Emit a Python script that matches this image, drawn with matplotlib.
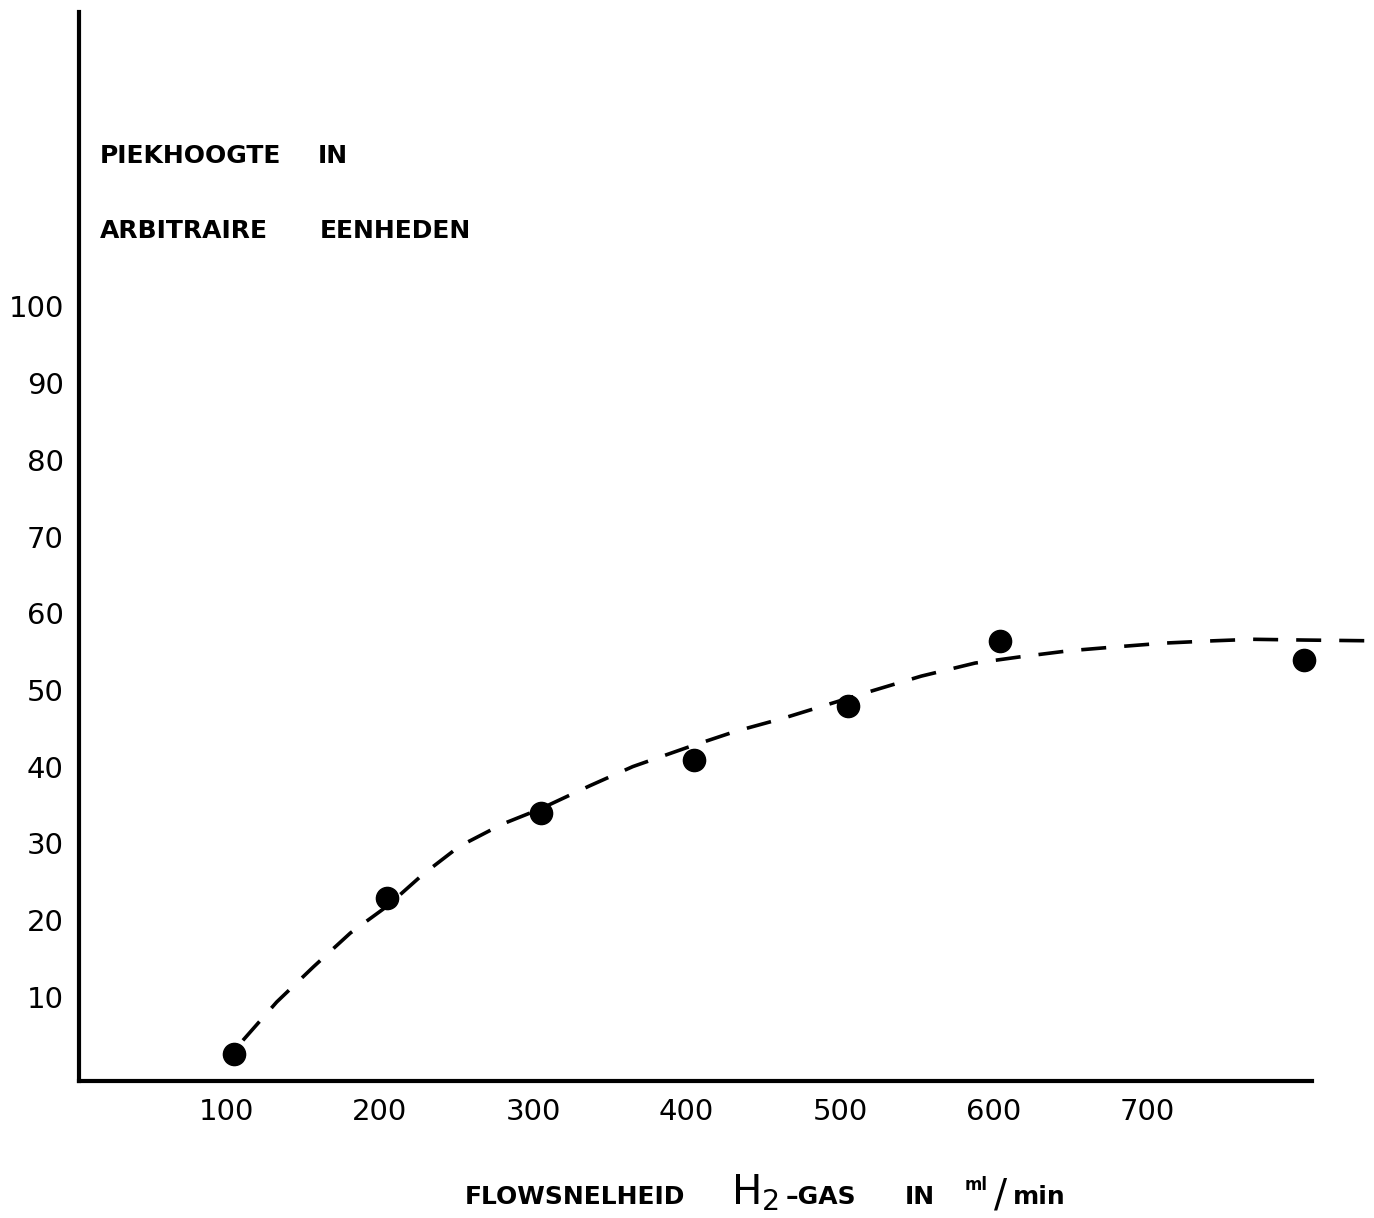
"""
Piekhoogte vs. H2 flowsnelheid -- recreation of a scanned lab-report graph.
"""

import matplotlib.pyplot as plt

# ── Data ───────────────────────────────────────────────────────────────

flow = [105, 205, 305, 405, 505, 604, 802]            # ml/min
peak = [2.5, 22.9, 34.0, 40.9, 47.9, 56.4, 53.9]      # arbitrary units

# hand-drawn trend line, traced from the dashes
curve_flow = [111, 133, 157, 181, 205, 228, 252, 280, 305, 337, 365, 402,
              432, 463, 497, 518, 553, 588, 617, 649, 679, 711, 743, 769,
              803, 847]
curve_peak = [4.3, 9.3, 13.9, 18.3, 21.8, 25.9, 29.6, 32.5, 34.5, 37.5,
              40.0, 42.6, 44.6, 46.3, 48.4, 49.7, 51.8, 53.5, 54.3, 55.1,
              55.6, 56.1, 56.4, 56.6, 56.5, 56.4]

xticks = [100, 200, 300, 400, 500, 600, 700]
yticks = [10, 20, 30, 40, 50, 60, 70, 80, 90, 100]

# ── Figure ─────────────────────────────────────────────────────────────

W, H = 1374, 1218
plt.rcParams["lines.scale_dashes"] = False


def fpos(x, y):
    """pixel position (from top-left) -> figure fraction"""
    return x / W, 1 - y / H


fig = plt.figure(figsize=(W / 100, H / 100), dpi=100)
ax = fig.add_axes([79 / W, 1 - 1081 / H, (1312 - 79) / W, (1081 - 12) / H])

ax.plot(curve_flow, curve_peak, color="black", linewidth=2.6,
        linestyle=(0, (18, 13)), solid_capstyle="butt", clip_on=False)
ax.plot(flow, peak, "o", color="black", markersize=16, clip_on=False)

ax.set_xlim(4.2, 807.5)
ax.set_ylim(-1.0, 138.4)
ax.set_xticks(xticks)
ax.set_yticks(yticks)

for side in ("top", "right"):
    ax.spines[side].set_visible(False)
for side in ("left", "bottom"):
    ax.spines[side].set_linewidth(3)

ax.tick_params(axis="both", length=0, labelsize=21)
ax.tick_params(axis="x", pad=12)
ax.tick_params(axis="y", pad=11)

# y-axis title, inside the plot
bold = dict(fontweight="bold", fontsize=18, va="baseline", ha="left")
fig.text(*fpos(100, 163), "PIEKHOOGTE", **bold)
fig.text(*fpos(318, 163), "IN", **bold)
fig.text(*fpos(100, 238), "ARBITRAIRE", **bold)
fig.text(*fpos(320, 238), "EENHEDEN", **bold)

# x-axis title, built from pieces of different size
fig.text(*fpos(465, 1204), "FLOWSNELHEID", **bold)
fig.text(*fpos(731, 1204), r"H$_2$", fontsize=29, va="baseline", ha="left")
fig.text(*fpos(786, 1204), "–GAS", **bold)
fig.text(*fpos(905, 1204), "IN", **bold)
fig.text(*fpos(965, 1190), "ml", fontweight="bold", fontsize=12,
         va="baseline", ha="left")
fig.text(*fpos(994, 1206), "/", fontsize=28, va="baseline", ha="left")
fig.text(*fpos(1013, 1204), "min", **bold)

fig.savefig("out.png", dpi=100)
plt.close()
